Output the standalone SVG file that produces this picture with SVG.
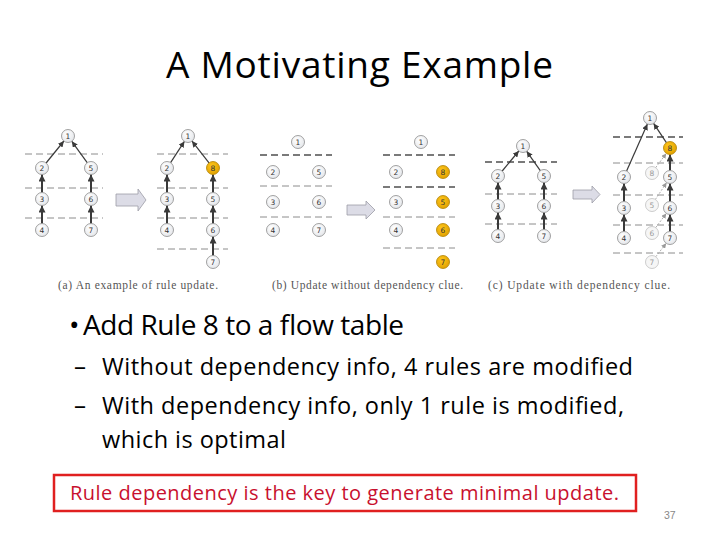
<svg xmlns="http://www.w3.org/2000/svg" width="720" height="540" viewBox="0 0 720 540">
<defs>
<radialGradient id="gw" cx="0.4" cy="0.35" r="0.7"><stop offset="0" stop-color="#ffffff"/><stop offset="1" stop-color="#e4e6ea"/></radialGradient>
<radialGradient id="go" cx="0.4" cy="0.35" r="0.7"><stop offset="0" stop-color="#ffc61a"/><stop offset="1" stop-color="#e0a000"/></radialGradient>
<marker id="ah" viewBox="0 0 10 10" refX="10" refY="5" markerWidth="6" markerHeight="6" markerUnits="userSpaceOnUse" orient="auto"><path d="M0,0 L10,5 L0,10 z" fill="#3a3a3a"/></marker>
<marker id="ahv" viewBox="0 0 10 10" refX="10" refY="5" markerWidth="7" markerHeight="7" markerUnits="userSpaceOnUse" orient="auto"><path d="M0,0 L10,5 L0,10 z" fill="#3a3a3a"/></marker>
<marker id="ahg" viewBox="0 0 10 10" refX="10" refY="5" markerWidth="5" markerHeight="5" markerUnits="userSpaceOnUse" orient="auto"><path d="M0,0 L10,5 L0,10 z" fill="#9a9a9a"/></marker>
</defs>
<style>
.n circle{fill:url(#gw);stroke:#8a8a8a;stroke-width:0.8}
.o circle{fill:url(#go);stroke:#b08000;stroke-width:0.8}
.g circle{fill:#f6f6f6;stroke:#b8b8b8;stroke-width:0.7}
.n text,.o text{font-family:"DejaVu Sans",sans-serif;font-size:7.5px;fill:#333;text-anchor:middle}
.g text{font-family:"DejaVu Sans",sans-serif;font-size:7.5px;fill:#9a9a9a;text-anchor:middle}
.dl{stroke:#8c8c8c;stroke-width:1;stroke-dasharray:7,4;fill:none}
.dk{stroke:#7a7a7a;stroke-width:1.8;stroke-dasharray:7,4;fill:none}
.e{stroke:#3a3a3a;stroke-width:1.2;fill:none;marker-end:url(#ah)}
.ev{stroke:#3a3a3a;stroke-width:2;fill:none;marker-end:url(#ahv)}
.eg{stroke:#9a9a9a;stroke-width:0.8;stroke-dasharray:2,1.5;fill:none;marker-end:url(#ahg)}
.ba{fill:#dcdce6;stroke:#9c9ca6;stroke-width:0.8}
.cap{font-family:"Liberation Serif",serif;font-size:11.5px;fill:#555}
.t{font-family:"Open Sans","Liberation Sans",sans-serif;fill:#000}
</style>
<rect width="720" height="540" fill="#ffffff"/>

<text class="t" x="166" y="78" font-size="37" textLength="387">A Motivating Example</text>

<g id="levels">
<path class="dl" d="M25,154H103M25,188H103M25,218H103"/>
<path class="dl" d="M157,154H228M157,188H228M157,218H228M157,249H228"/>
<path class="dk" d="M260,155H332"/><path class="dl" d="M260,186H332M260,217H332"/>
<path class="dk" d="M383,155H455M383,187H455"/><path class="dl" d="M383,217H455M383,248H455"/>
<path class="dk" d="M485,162H557"/><path class="dl" d="M485,194H557M485,224H557"/>
<path class="dk" d="M613,137H683"/><path class="dl" d="M613,163H683M613,195H683M613,225H683M613,253H683"/>
</g>

<g id="connectors">
<path class="e" d="M46.1,163 L63.9,141"/>
<path class="e" d="M87.2,162.7 L71.8,141.3"/>
<path class="ev" d="M42,192.5 L42,174.5"/><path class="ev" d="M42,223.5 L42,205.5"/>
<path class="ev" d="M91,192.5 L91,174.5"/><path class="ev" d="M91,223.5 L91,205.5"/>

<path class="e" d="M170.6,162.6 L184.4,141.4"/>
<path class="e" d="M209,162.9 L192,141.1"/>
<path class="ev" d="M167,192.5 L167,174.5"/><path class="ev" d="M167,223.5 L167,205.5"/>
<path class="ev" d="M213,192.5 L213,174.5"/><path class="ev" d="M213,223.5 L213,205.5"/><path class="ev" d="M213,255.5 L213,236.5"/>

<path class="e" d="M502.2,171 L518.8,151"/>
<path class="e" d="M540.3,170.7 L526.7,151.3"/>
<path class="ev" d="M498,199.5 L498,182.5"/><path class="ev" d="M498,229.5 L498,212.5"/>
<path class="ev" d="M544,199.5 L544,182.5"/><path class="ev" d="M544,229.5 L544,212.5"/>

<path class="e" d="M626.6,171.1 L647.4,124.1"/>
<path class="e" d="M666.4,142.6 L653.6,123.4"/>
<path class="ev" d="M670,170.5 L670,154.5"/><path class="ev" d="M670,201.5 L670,183.5"/><path class="ev" d="M670,231.5 L670,214.5"/>
<path class="ev" d="M624,201.5 L624,183.5"/><path class="ev" d="M624,231.5 L624,214.5"/>
<path class="eg" d="M655.7,167.6 L666.3,153.4"/>
<path class="eg" d="M655.4,199.4 L666.6,182.6"/>
<path class="eg" d="M655.7,227.6 L666.3,213.4"/>
<path class="eg" d="M655.8,256.7 L666.2,243.3"/>
</g>

<polygon id="arrowA" class="ba" points="116,194 138,194 138,189 146,200 138,211 138,206 116,206"/>
<polygon id="arrowB" class="ba" points="347,205 366,205 366,201 375,210 366,219 366,215 347,215"/>
<polygon id="arrowC" class="ba" points="573,190 592,190 592,186 600,194.5 592,203 592,199 573,199"/>

<g id="a1" class="n"><circle cx="68" cy="136" r="6.5"/><text x="68" y="138.7">1</text></g>
<g id="a2" class="n"><circle cx="42" cy="168" r="6.5"/><text x="42" y="170.7">2</text></g>
<g id="a5" class="n"><circle cx="91" cy="168" r="6.5"/><text x="91" y="170.7">5</text></g>
<g id="a3" class="n"><circle cx="42" cy="199" r="6.5"/><text x="42" y="201.7">3</text></g>
<g id="a6" class="n"><circle cx="91" cy="199" r="6.5"/><text x="91" y="201.7">6</text></g>
<g id="a4" class="n"><circle cx="42" cy="230" r="6.5"/><text x="42" y="232.7">4</text></g>
<g id="a7" class="n"><circle cx="91" cy="230" r="6.5"/><text x="91" y="232.7">7</text></g>

<g id="ar1" class="n"><circle cx="188" cy="136" r="6.5"/><text x="188" y="138.7">1</text></g>
<g id="ar2" class="n"><circle cx="167" cy="168" r="6.5"/><text x="167" y="170.7">2</text></g>
<g id="ar8" class="o"><circle cx="213" cy="168" r="6.5"/><text x="213" y="170.7">8</text></g>
<g id="ar3" class="n"><circle cx="167" cy="199" r="6.5"/><text x="167" y="201.7">3</text></g>
<g id="ar5" class="n"><circle cx="213" cy="199" r="6.5"/><text x="213" y="201.7">5</text></g>
<g id="ar4" class="n"><circle cx="167" cy="230" r="6.5"/><text x="167" y="232.7">4</text></g>
<g id="ar6" class="n"><circle cx="213" cy="230" r="6.5"/><text x="213" y="232.7">6</text></g>
<g id="ar7" class="n"><circle cx="213" cy="262" r="6.5"/><text x="213" y="264.7">7</text></g>

<g id="b1" class="n"><circle cx="298" cy="142" r="6.5"/><text x="298" y="144.7">1</text></g>
<g id="b2" class="n"><circle cx="273" cy="172" r="6.5"/><text x="273" y="174.7">2</text></g>
<g id="b5" class="n"><circle cx="319" cy="172" r="6.5"/><text x="319" y="174.7">5</text></g>
<g id="b3" class="n"><circle cx="273" cy="202" r="6.5"/><text x="273" y="204.7">3</text></g>
<g id="b6" class="n"><circle cx="319" cy="202" r="6.5"/><text x="319" y="204.7">6</text></g>
<g id="b4" class="n"><circle cx="273" cy="230" r="6.5"/><text x="273" y="232.7">4</text></g>
<g id="b7" class="n"><circle cx="319" cy="230" r="6.5"/><text x="319" y="232.7">7</text></g>

<g id="br1" class="n"><circle cx="421" cy="142" r="6.5"/><text x="421" y="144.7">1</text></g>
<g id="br2" class="n"><circle cx="396" cy="172" r="6.5"/><text x="396" y="174.7">2</text></g>
<g id="br8" class="o"><circle cx="443" cy="172" r="6.5"/><text x="443" y="174.7">8</text></g>
<g id="br3" class="n"><circle cx="396" cy="202" r="6.5"/><text x="396" y="204.7">3</text></g>
<g id="br5" class="o"><circle cx="443" cy="202" r="6.5"/><text x="443" y="204.7">5</text></g>
<g id="br4" class="n"><circle cx="396" cy="230" r="6.5"/><text x="396" y="232.7">4</text></g>
<g id="br6" class="o"><circle cx="443" cy="230" r="6.5"/><text x="443" y="232.7">6</text></g>
<g id="br7" class="o"><circle cx="443" cy="262" r="6.5"/><text x="443" y="264.7">7</text></g>

<g id="c1" class="n"><circle cx="523" cy="146" r="6.5"/><text x="523" y="148.7">1</text></g>
<g id="c2" class="n"><circle cx="498" cy="176" r="6.5"/><text x="498" y="178.7">2</text></g>
<g id="c5" class="n"><circle cx="544" cy="176" r="6.5"/><text x="544" y="178.7">5</text></g>
<g id="c3" class="n"><circle cx="498" cy="206" r="6.5"/><text x="498" y="208.7">3</text></g>
<g id="c6" class="n"><circle cx="544" cy="206" r="6.5"/><text x="544" y="208.7">6</text></g>
<g id="c4" class="n"><circle cx="498" cy="236" r="6.5"/><text x="498" y="238.7">4</text></g>
<g id="c7" class="n"><circle cx="544" cy="236" r="6.5"/><text x="544" y="238.7">7</text></g>

<g id="cr1" class="n"><circle cx="650" cy="118" r="6.5"/><text x="650" y="120.7">1</text></g>
<g id="cr8" class="o"><circle cx="670" cy="148" r="6.5"/><text x="670" y="150.7">8</text></g>
<g id="cr2" class="n"><circle cx="624" cy="177" r="6.5"/><text x="624" y="179.7">2</text></g>
<g id="cr5" class="n"><circle cx="670" cy="177" r="6.5"/><text x="670" y="179.7">5</text></g>
<g id="cr3" class="n"><circle cx="624" cy="208" r="6.5"/><text x="624" y="210.7">3</text></g>
<g id="cr6" class="n"><circle cx="670" cy="208" r="6.5"/><text x="670" y="210.7">6</text></g>
<g id="cr4" class="n"><circle cx="624" cy="238" r="6.5"/><text x="624" y="240.7">4</text></g>
<g id="cr7" class="n"><circle cx="670" cy="238" r="6.5"/><text x="670" y="240.7">7</text></g>
<g id="cg8" class="g"><circle cx="652" cy="173" r="6.5"/><text x="652" y="175.7">8</text></g>
<g id="cg5" class="g"><circle cx="652" cy="205" r="6.5"/><text x="652" y="207.7">5</text></g>
<g id="cg6" class="g"><circle cx="652" cy="233" r="6.5"/><text x="652" y="235.7">6</text></g>
<g id="cg7" class="g"><circle cx="652" cy="262" r="6.5"/><text x="652" y="264.7">7</text></g>

<text class="cap" x="58" y="289" textLength="160">(a) An example of rule update.</text>
<text class="cap" x="272" y="289" textLength="191">(b) Update without dependency clue.</text>
<text class="cap" x="488" y="289" textLength="182">(c) Update with dependency clue.</text>

<text class="t" x="69" y="335" font-size="28">•</text>
<text class="t" x="83" y="335" font-size="28" textLength="321">Add Rule 8 to a flow table</text>
<text class="t" x="74" y="375" font-size="24">–</text>
<text class="t" x="102" y="375" font-size="23.5" textLength="531">Without dependency info, 4 rules are modified</text>
<text class="t" x="74" y="414" font-size="24">–</text>
<text class="t" x="102" y="414" font-size="23.5" textLength="522">With dependency info, only 1 rule is modified,</text>
<text class="t" x="102" y="448" font-size="23.5" textLength="184">which is optimal</text>

<rect x="54" y="475" width="582" height="36" fill="none" stroke="#e02020" stroke-width="2.5"/>
<text x="70" y="500" font-family="Open Sans, Liberation Sans, sans-serif" font-size="20" fill="#c8102e" textLength="549">Rule dependency is the key to generate minimal update.</text>
<text x="664" y="519" font-family="Liberation Sans, Arial, sans-serif" font-size="10.5" fill="#888">37</text>
</svg>
